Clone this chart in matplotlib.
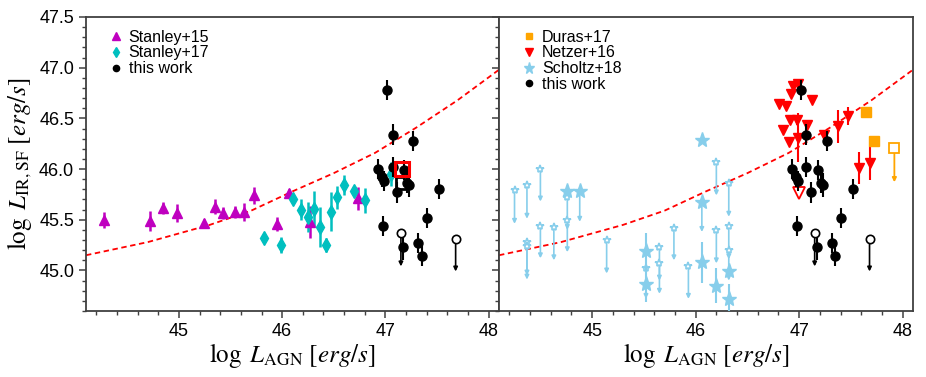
import matplotlib
matplotlib.use('Agg')
import matplotlib.pyplot as plt
from matplotlib.lines import Line2D
from matplotlib.ticker import MultipleLocator

plt.rcParams['font.family'] = ['Liberation Sans', 'DejaVu Sans']
plt.rcParams['mathtext.fontset'] = 'stix'

# red dashed relation
curve_x = [44.1, 44.7, 45.3, 45.7, 46.1, 46.5, 46.9, 47.3, 47.7, 48.1]
curve_y = [45.15, 45.28, 45.45, 45.59, 45.78, 45.96, 46.16, 46.41, 46.68, 46.98]

# Stanley+15
s15_x = [44.27, 44.72, 44.85, 44.98, 45.24, 45.35, 45.43, 45.54, 45.63, 45.73, 45.95, 46.07, 46.27, 46.73]
s15_y = [45.50, 45.49, 45.62, 45.57, 45.47, 45.63, 45.57, 45.58, 45.58, 45.74, 45.46, 45.76, 45.48, 45.71]
s15_err = [0.08, 0.10, 0.06, 0.09, 0.04, 0.07, 0.06, 0.06, 0.09, 0.08, 0.07, 0.04, 0.16, 0.11]

# Stanley+17
s17_x = [45.82, 45.99, 46.10, 46.18, 46.25, 46.31, 46.37, 46.42, 46.47, 46.53, 46.60, 46.70, 46.80, 47.05]
s17_y = [45.32, 45.25, 45.70, 45.60, 45.53, 45.61, 45.43, 45.25, 45.58, 45.72, 45.84, 45.78, 45.69, 45.95]
s17_err = [0.03, 0.08, 0.03, 0.10, 0.15, 0.17, 0.20, 0.07, 0.19, 0.11, 0.10, 0.03, 0.12, 0.12]

# this work (detections)
tw_x = [47.02, 47.07, 47.27, 46.93, 47.07, 47.18, 46.97, 46.99, 47.11, 47.21, 47.23, 47.52, 46.98, 47.40, 47.17, 47.32, 47.35]
tw_y = [46.78, 46.34, 46.28, 46.00, 46.02, 45.99, 45.92, 45.88, 45.77, 45.86, 45.84, 45.80, 45.44, 45.52, 45.23, 45.27, 45.14]
tw_err = [0.10, 0.10, 0.10, 0.10, 0.10, 0.10, 0.10, 0.10, 0.10, 0.10, 0.12, 0.10, 0.10, 0.10, 0.13, 0.10, 0.10]
# this work (upper limits)
tw_ul_x = [47.15, 47.68]
tw_ul_y = [45.37, 45.31]
tw_ul_len = [0.33, 0.32]
# special points in the left panel
sq_red = (47.16, 46.00)
sq_black = (47.16, 45.86)

# Duras+17
dur_x = [47.65, 47.72]
dur_y = [46.56, 46.28]
dur_ul_x = [47.92]
dur_ul_y = [46.21]
dur_ul_len = [0.34]

# Netzer+16
net_x = [46.94, 46.99, 46.92, 47.12, 46.81, 46.87, 46.91, 46.98, 47.08, 46.84, 46.99, 46.90, 47.24, 47.38, 47.47, 47.58, 47.68]
net_y = [46.82, 46.84, 46.74, 46.68, 46.64, 46.62, 46.48, 46.48, 46.43, 46.39, 46.31, 46.27, 46.34, 46.42, 46.52, 46.01, 46.06]
net_err = [0.0, 0.0, 0.0, 0.0, 0.0, 0.0, 0.04, 0.05, 0.0, 0.0, 0.24, 0.0, 0.0, 0.16, 0.09, 0.16, 0.17]
net_open = (47.00, 45.76)

# Scholtz+18 detections
sch_x = [44.76, 44.88, 46.06, 46.06, 46.06, 45.52, 45.52, 46.20, 46.32, 46.32]
sch_y = [45.78, 45.78, 46.29, 45.68, 45.08, 45.19, 44.87, 44.85, 44.99, 44.72]
sch_err = [0.0, 0.0, 0.0, 0.0, 0.20, 0.18, 0.18, 0.17, 0.0, 0.15]
# Scholtz+18 upper limits
sch_ul_x = [44.25, 44.37, 44.50, 44.76, 44.76, 44.88, 44.37, 44.37, 44.50, 44.63, 45.14,
            46.20, 46.32, 46.06, 46.20, 45.93, 45.79, 45.65, 45.65, 45.52, 46.32, 46.32]
sch_ul_y = [45.79, 45.84, 46.00, 45.72, 45.50, 45.78, 45.28, 45.24, 45.44, 45.43, 45.30,
            46.07, 45.86, 45.68, 45.40, 45.04, 45.42, 45.23, 45.07, 45.02, 45.44, 45.20]
sch_ul_len = [0.33, 0.33, 0.32, 0.32, 0.32, 0.30, 0.33, 0.33, 0.32, 0.33, 0.33,
              0.33, 0.33, 0.30, 0.33, 0.32, 0.32, 0.33, 0.30, 0.30, 0.33, 0.30]

SKY = '#87CEEB'
MAG = '#BF00BF'
CYA = '#00BFBF'
ORA = '#FFA500'


def arrows(ax, xs, ys, lens, color, lw=1.2, z=3):
    for x, y, l in zip(xs, ys, lens):
        ax.annotate('', xy=(x, y - l), xytext=(x, y), zorder=z,
                    arrowprops=dict(arrowstyle='-|>', color=color, lw=lw,
                                    mutation_scale=6, shrinkA=0, shrinkB=0))


def style(ax, labels=True):
    ax.set_xlim(44.1, 48.1)
    ax.set_ylim(44.6, 47.5)
    ax.xaxis.set_major_locator(MultipleLocator(1))
    ax.xaxis.set_minor_locator(MultipleLocator(0.2))
    ax.yaxis.set_major_locator(MultipleLocator(0.5))
    ax.yaxis.set_minor_locator(MultipleLocator(0.1))
    ax.tick_params(which='both', direction='out', labelsize=13, color='0.25')
    ax.tick_params(which='major', length=5, width=1.1)
    ax.tick_params(which='minor', length=3, width=1)
    for s in ax.spines.values():
        s.set_color('0.25')
        s.set_linewidth(1.3)
    if labels:
        ax.yaxis.set_major_formatter(matplotlib.ticker.FormatStrFormatter('%.1f'))
    else:
        ax.set_yticklabels([])
    ax.set_xlabel(r'$\log\ L_{\rm AGN}\ \left[erg/s\right]$', fontsize=18, labelpad=1)


def this_work(ax):
    ax.errorbar(tw_x, tw_y, yerr=tw_err, fmt='o', color='k', ms=6.5, elinewidth=1.5,
                capsize=0, zorder=6)
    arrows(ax, tw_ul_x, tw_ul_y, tw_ul_len, 'k', z=5)
    ax.plot(tw_ul_x, tw_ul_y, 'o', mfc='white', mec='k', ms=6, mew=1.2, zorder=7)


fig = plt.figure(figsize=(9.26, 3.77), dpi=100)
ax1 = fig.add_axes([86 / 926, 66 / 377, 413 / 926, 294 / 377])
ax2 = fig.add_axes([499 / 926, 66 / 377, 414 / 926, 294 / 377])

# left panel
ax1.plot(curve_x, curve_y, '--', color='red', lw=1.3, dashes=(3, 2), zorder=2)
ax1.errorbar(s15_x, s15_y, yerr=s15_err, fmt='^', color=MAG, ms=7, elinewidth=1.8,
             capsize=0, zorder=4)
ax1.errorbar(s17_x, s17_y, yerr=s17_err, fmt='d', color=CYA, ms=7, elinewidth=1.8,
             capsize=0, zorder=4)
this_work(ax1)
ax1.plot(*sq_black, 's', mfc='none', mec='k', ms=9, mew=2, zorder=5)
ax1.plot(*sq_red, 's', mfc='none', mec='red', ms=10, mew=2.2, zorder=8)
style(ax1)
ax1.set_ylabel(r'$\log\ L_{\rm IR,SF}\ \left[erg/s\right]$', fontsize=18, labelpad=4)

h1 = [Line2D([], [], ls='none', marker='^', color=MAG, ms=7),
      Line2D([], [], ls='none', marker='d', color=CYA, ms=7),
      Line2D([], [], ls='none', marker='o', color='k', ms=6)]
ax1.legend(h1, ['Stanley+15', 'Stanley+17', 'this work'], loc='upper left',
           bbox_to_anchor=(0.03, 0.99), frameon=False, fontsize=11.5, markerscale=0.75,
           handlelength=1.0, handletextpad=0.3, labelspacing=0.05, borderaxespad=0.2)

# right panel
ax2.plot(curve_x, curve_y, '--', color='red', lw=1.3, dashes=(3, 2), zorder=2)
arrows(ax2, sch_ul_x, sch_ul_y, sch_ul_len, SKY, lw=1.2)
ax2.plot(sch_ul_x, sch_ul_y, '*', mfc='white', mec=SKY, ms=6, mew=1.2, zorder=4)
ax2.errorbar(sch_x, sch_y, yerr=sch_err, fmt='*', color=SKY, ms=11, elinewidth=1.5,
             capsize=0, zorder=4)
ax2.errorbar(net_x, net_y, yerr=net_err, fmt='v', color='red', ms=7, elinewidth=1.5,
             capsize=0, zorder=4)
ax2.plot(*net_open, 'v', mfc='none', mec='red', ms=9, mew=1.3, zorder=4)
ax2.plot(dur_x, dur_y, 's', color=ORA, ms=6.5, zorder=4)
arrows(ax2, dur_ul_x, dur_ul_y, dur_ul_len, ORA, lw=1.3)
ax2.plot(dur_ul_x, dur_ul_y, 's', mfc='white', mec=ORA, ms=6.5, mew=1.3, zorder=5)
this_work(ax2)
style(ax2, labels=False)

h2 = [Line2D([], [], ls='none', marker='s', color=ORA, ms=6),
      Line2D([], [], ls='none', marker='v', color='red', ms=7),
      Line2D([], [], ls='none', marker='*', color=SKY, ms=11),
      Line2D([], [], ls='none', marker='o', color='k', ms=6)]
ax2.legend(h2, ['Duras+17', 'Netzer+16', 'Scholtz+18', 'this work'], loc='upper left',
           bbox_to_anchor=(0.03, 0.99), frameon=False, fontsize=11.5, markerscale=0.75,
           handlelength=1.0, handletextpad=0.3, labelspacing=0.05, borderaxespad=0.2)

fig.savefig('out.png', dpi=100)
